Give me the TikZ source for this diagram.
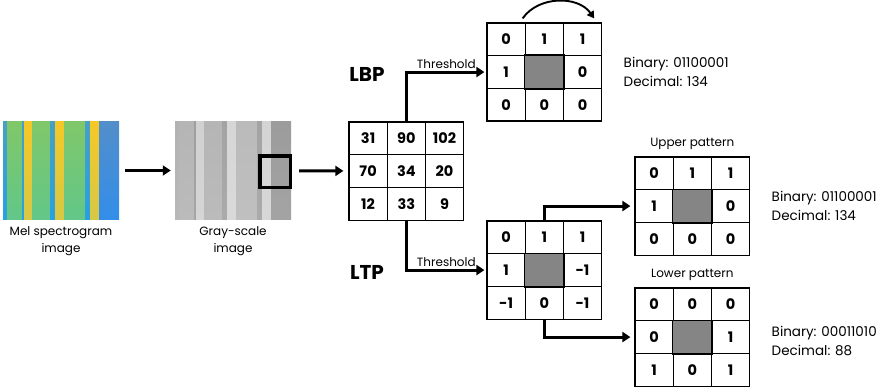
\documentclass[tikz,border=0pt]{standalone}
\usepackage{fontspec}
\setmainfont{Poppins}
\usetikzlibrary{arrows.meta,positioning}

\definecolor{melblue}{HTML}{2E93DF}
\definecolor{meldeep}{HTML}{3A7FE6}
\definecolor{melgreen}{HTML}{6FBF78}
\definecolor{melyellow}{HTML}{F4C12C}
\definecolor{holegray}{HTML}{858585}

\tikzset{
  cell/.style={draw, line width=1.2pt, minimum width=38.2pt, minimum height=32.7pt,
    inner sep=0pt, font=\fontsize{14.5}{16}\selectfont\bfseries},
  flow/.style={line width=3pt, -{Triangle[length=8pt,width=10pt]}},
  turn/.style={line width=1.9pt, -{Triangle[length=7pt,width=8pt]}},
  imgbox/.style={minimum width=116pt, minimum height=97pt, inner sep=0pt},
  caption/.style={align=center, font=\fontsize{12}{17}\selectfont},
  code/.style={align=left, font=\fontsize{13.5}{19}\selectfont},
  thr/.style={font=\fontsize{12}{13}\selectfont, inner sep=2pt},
  biglabel/.style={font=\fontsize{20}{22}\selectfont\bfseries},
  pattitle/.style={font=\fontsize{12}{14}\selectfont}
}

% 3x3 grid of cells: name, left x, top y, nine values
\newcommand{\patgrid}[4]{%
  \foreach \v [count=\k from 0] in {#4} {
    \pgfmathtruncatemacro{\r}{\k/3}
    \pgfmathtruncatemacro{\c}{mod(\k,3)}
    \node[cell] (#1-\r\c) at ({#2+(\c+0.5)*38.2},{#3-(\r+0.5)*32.7}) {\v};
  }}
\newcommand{\hole}[1]{\draw[line width=1.2pt, fill=holegray] (#1-11.south west) rectangle (#1-11.north east);}

\begin{document}
\begin{tikzpicture}[x=1pt,y=1pt]
\useasboundingbox (0,0) rectangle (886,389);

% input images
\node[imgbox] (mel) at (61,218.5) {};
\node[imgbox] (gray) at (233,218.5) {};
\foreach \xa/\xb/\mc/\gk in {3/7/melblue/30, 7/22/melgreen/29, 22/24/melblue/38,
    24/32/melyellow/18, 32/50/melgreen/29, 50/55/melblue/36, 55/64/melyellow/16,
    64/85/melgreen/27, 85/90/melblue/36, 90/99/melyellow/17, 99/119/meldeep/39} {
  \shade[top color=\mc!88!yellow, bottom color=\mc!88!cyan] (\xa,170) rectangle (\xb,267);
  \shade[top color=black!\gk, bottom color=black!\gk!white!92] (\xa+172,170) rectangle (\xb+172,267);
}
\draw[line width=3.5pt] (259.75,201.75) rectangle (290.25,233.25);
\node[caption, below=4pt of mel] (mellbl) {Mel spectrogram\\image};
\node[caption, below=4pt of gray] (graylbl) {Gray-scale\\image};

% grids
\patgrid{mat}{349}{267}{31,90,102,70,34,20,12,33,9}
\patgrid{lbp}{487}{366}{0,1,1,1,{},0,0,0,0}
\patgrid{ltp}{487}{168}{0,1,1,1,{},-1,-1,0,-1}
\patgrid{up}{635}{232}{0,1,1,1,{},0,0,0,0}
\patgrid{low}{635}{101}{0,0,0,0,{},1,1,0,1}
\hole{lbp} \hole{ltp} \hole{up} \hole{low}

\node[biglabel] (lbplbl) at (367,315) {LBP};
\node[biglabel] (ltplbl) at (367,117) {LTP};
\node[pattitle, above=3pt of up-01] (uptitle) {Upper pattern};
\node[pattitle, above=3pt of low-01] (lowtitle) {Lower pattern};
\node[code, right=18pt of lbp-12] (lbpcode) {Binary: 01100001\\Decimal: 134};
\node[code, right=18pt of up-12] (upcode) {Binary: 01100001\\Decimal: 134};
\node[code, right=18pt of low-12, yshift=-4pt] (lowcode) {Binary: 00011010\\Decimal: 88};

% connectors
\draw[flow, shorten <=6pt, shorten >=4pt] (mel) -- (gray);
\draw[flow, shorten <=8pt, shorten >=5pt] (gray) -- (mat-10);
\draw[flow, shorten >=2pt] (mat-01.north) |- node[pos=0.75, above, thr] {Threshold} (lbp-10.west);
\draw[flow, shorten >=2pt] (mat-21.south) |- node[pos=0.75, above, thr] {Threshold} (ltp-10.west);
\draw[flow, shorten >=4pt] (ltp-01.north) |- (up-10.west);
\draw[flow, shorten >=4pt] (ltp-21.south) |- (low-10.west);
\draw[turn] ([shift={(-2,4)}]lbp-01.north west) to[out=55,in=125] ([shift={(-8,4)}]lbp-02.north east);
\end{tikzpicture}
\end{document}
